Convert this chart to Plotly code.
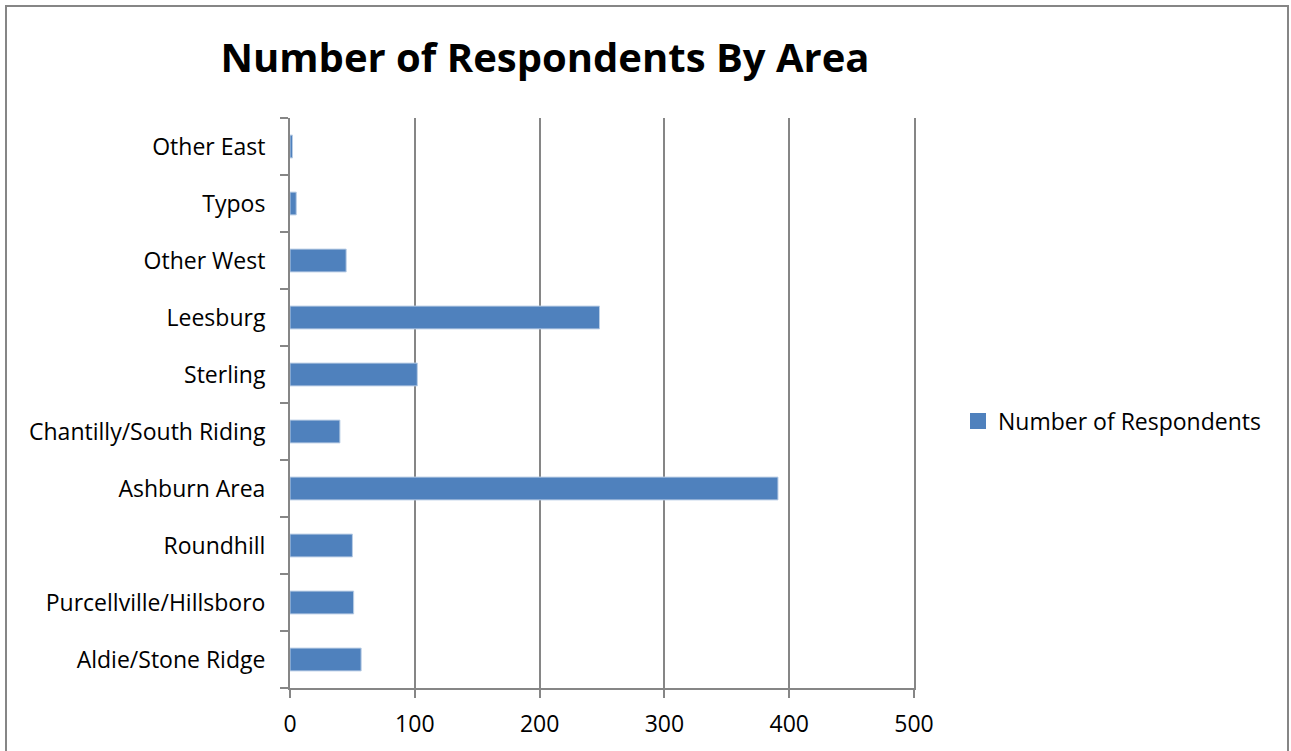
import plotly.graph_objects as go

categories = ["Aldie/Stone Ridge", "Purcellville/Hillsboro", "Roundhill", "Ashburn Area",
              "Chantilly/South Riding", "Sterling", "Leesburg", "Other West", "Typos", "Other East"]
respondents = [57, 51, 50, 391, 40, 102, 248, 45, 5, 2]
series_name = "Number of Respondents"
x_ticks = [0, 100, 200, 300, 400, 500]

W, H = 1291, 751
L, R, T, B = 290, 914, 118, 688
bar_color = "#4F81BD"

fig = go.Figure()
fig.add_trace(go.Bar(
    y=categories, x=respondents, orientation="h", name=series_name,
    marker=dict(color=bar_color, line=dict(color="#B9CDE5", width=1)),
    showlegend=False,
))
# legend entry with a larger square swatch
fig.add_trace(go.Scatter(
    x=[None], y=[None], mode="markers", name=series_name,
    marker=dict(symbol="square", size=16, color=bar_color), showlegend=True,
    hoverinfo="skip",
))

grid = "#868686"
fig.update_layout(
    width=W, height=H,
    margin=dict(l=L, r=W - R, t=T, b=H - B, pad=0),
    paper_bgcolor="white", plot_bgcolor="white",
    font=dict(family="Open Sans", size=23, color="#000000"),
    title=dict(text="<b>Number of Respondents By Area</b>", x=545 / W, xanchor="center",
               y=1 - 58 / H, yanchor="middle", font=dict(size=40, family="Open Sans")),
    bargap=0.6,
    showlegend=True,
    legend=dict(x=(958 - L) / (R - L), xanchor="left", y=1 - (421 - T) / (B - T), yanchor="middle",
                font=dict(size=23), itemwidth=30, bgcolor="rgba(0,0,0,0)"),
    xaxis=dict(range=[0, 500], tickvals=x_ticks, showgrid=True, gridcolor=grid, gridwidth=2,
               showline=True, linecolor=grid, linewidth=2, ticks="outside", ticklen=8,
               tickcolor=grid, tickwidth=2, zeroline=False, fixedrange=True,
               ticklabelstandoff=6),
    yaxis=dict(showgrid=False, showline=True, linecolor=grid, linewidth=2, ticks="outside",
               tickson="boundaries", ticklen=8, tickcolor=grid, tickwidth=2, mirror=True,
               ticklabelstandoff=18, fixedrange=True,
               categoryorder="array", categoryarray=categories),
)

# outer chart border
fig.add_shape(type="rect", xref="paper", yref="paper",
              x0=(6 - L) / (R - L), x1=(1288 - L) / (R - L),
              y0=1 - (760 - T) / (B - T), y1=1 - (6 - T) / (B - T),
              line=dict(color="#868686", width=2), fillcolor="rgba(0,0,0,0)", layer="below")

fig.write_html("out.html", config={"displayModeBar": False},
               post_script="document.body.style.margin='0';document.body.style.overflow='hidden';")
